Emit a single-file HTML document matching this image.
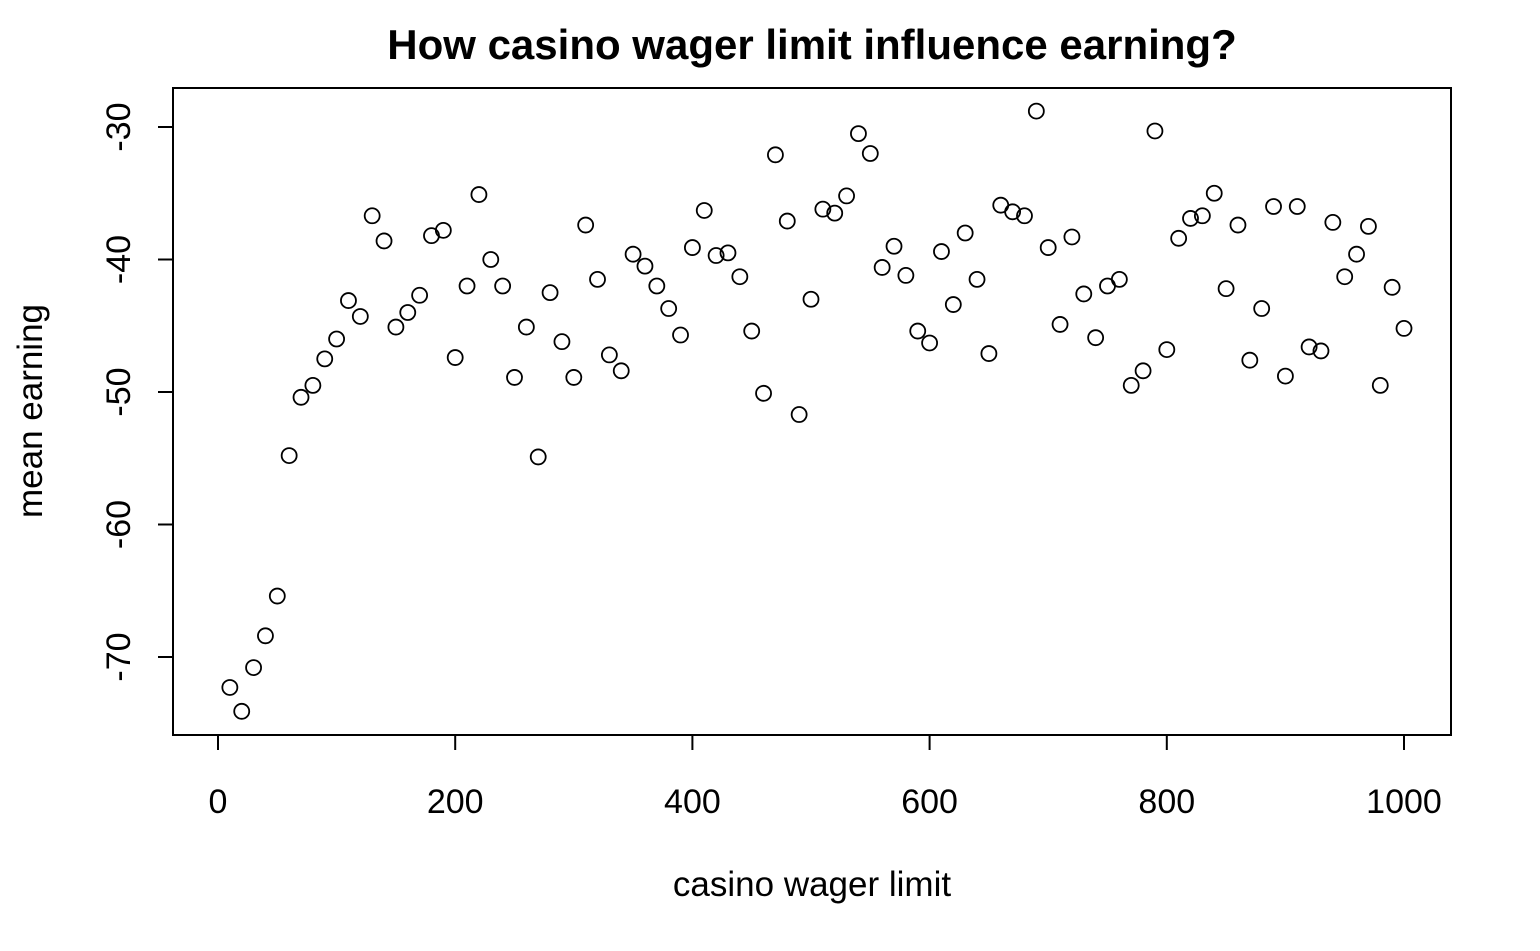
<!DOCTYPE html>
<html><head><meta charset="utf-8"><style>
html,body{margin:0;padding:0;background:#fff;}
svg{display:block;font-family:"Liberation Sans",Arial,sans-serif;}
</style></head><body>
<svg id="chart" width="1540" height="951" viewBox="0 0 1540 951" xmlns="http://www.w3.org/2000/svg">
<rect width="1540" height="951" fill="#fff"/>
<text x="812" y="59" text-anchor="middle" font-size="42" font-weight="bold">How casino wager limit influence earning?</text>
<rect x="173" y="88" width="1278" height="647" fill="none" stroke="#000" stroke-width="2"/>
<g id="xaxis"></g>
<g id="yaxis"></g>
<g id="points"></g>
<text x="812" y="896" text-anchor="middle" font-size="35">casino wager limit</text>
<text x="42" y="411" text-anchor="middle" font-size="35" transform="rotate(-90 42 411)">mean earning</text>
</svg>
<script>
const wagerLimits = [10,20,30,40,50,60,70,80,90,100,110,120,130,140,150,160,170,180,190,200,210,220,230,240,250,260,270,280,290,300,310,320,330,340,350,360,370,380,390,400,410,420,430,440,450,460,470,480,490,500,510,520,530,540,550,560,570,580,590,600,610,620,630,640,650,660,670,680,690,700,710,720,730,740,750,760,770,780,790,800,810,820,830,840,850,860,870,880,890,900,910,920,930,940,950,960,970,980,990,1000];
const meanEarning = [-72.3,-74.1,-70.8,-68.4,-65.4,-54.8,-50.4,-49.5,-47.5,-46.0,-43.1,-44.3,-36.7,-38.6,-45.1,-44.0,-42.7,-38.2,-37.8,-47.4,-42.0,-35.1,-40.0,-42.0,-48.9,-45.1,-54.9,-42.5,-46.2,-48.9,-37.4,-41.5,-47.2,-48.4,-39.6,-40.5,-42.0,-43.7,-45.7,-39.1,-36.3,-39.7,-39.5,-41.3,-45.4,-50.1,-32.1,-37.1,-51.7,-43.0,-36.2,-36.5,-35.2,-30.5,-32.0,-40.6,-39.0,-41.2,-45.4,-46.3,-39.4,-43.4,-38.0,-41.5,-47.1,-35.9,-36.4,-36.7,-28.8,-39.1,-44.9,-38.3,-42.6,-45.9,-42.0,-41.5,-49.5,-48.4,-30.3,-46.8,-38.4,-36.9,-36.7,-35.0,-42.2,-37.4,-47.6,-43.7,-36.0,-48.8,-36.0,-46.6,-46.9,-37.2,-41.3,-39.6,-37.5,-49.5,-42.1,-45.2];
const xTicks = [0,200,400,600,800,1000];
const yTicks = [-70,-60,-50,-40,-30];

const NS="http://www.w3.org/2000/svg";
function xs(v){return 218+(v-0)*(1404-218)/1000;}
function ys(v){return 127+(-30-v)*(657-127)/40;}
function mk(tag,attrs,parent){const e=document.createElementNS(NS,tag);for(const k in attrs)e.setAttribute(k,attrs[k]);parent.appendChild(e);return e;}

const xg=document.getElementById('xaxis');
mk('line',{x1:xs(xTicks[0]),x2:xs(xTicks[xTicks.length-1]),y1:735,y2:735,stroke:'#000','stroke-width':2},xg);
xTicks.forEach(t=>{
  const l=mk('line',{x1:xs(t),x2:xs(t),y1:735,y2:750,stroke:'#000','stroke-width':2},xg);
  
  
  const tx=mk('text',{x:xs(t),y:813,'text-anchor':'middle','font-size':34},xg);
  tx.textContent=t;
  
  
});
const yg=document.getElementById('yaxis');
mk('line',{x1:173,x2:173,y1:ys(yTicks[0]),y2:ys(yTicks[yTicks.length-1]),stroke:'#000','stroke-width':2},yg);
yTicks.forEach(t=>{
  const l=mk('line',{x1:158,x2:173,y1:ys(t),y2:ys(t),stroke:'#000','stroke-width':2},yg);
  
  
  const tx=mk('text',{x:130,y:ys(t),'text-anchor':'middle','font-size':34,transform:`rotate(-90 130 ${ys(t)})`},yg);
  tx.textContent=t;
  
  
});
const pg=document.getElementById('points');
wagerLimits.forEach((x,i)=>{
  const c=mk('circle',{cx:xs(x),cy:ys(meanEarning[i]),r:7.5,fill:'none',stroke:'#000','stroke-width':1.8},pg);
  
  
});
</script>
</body></html>
